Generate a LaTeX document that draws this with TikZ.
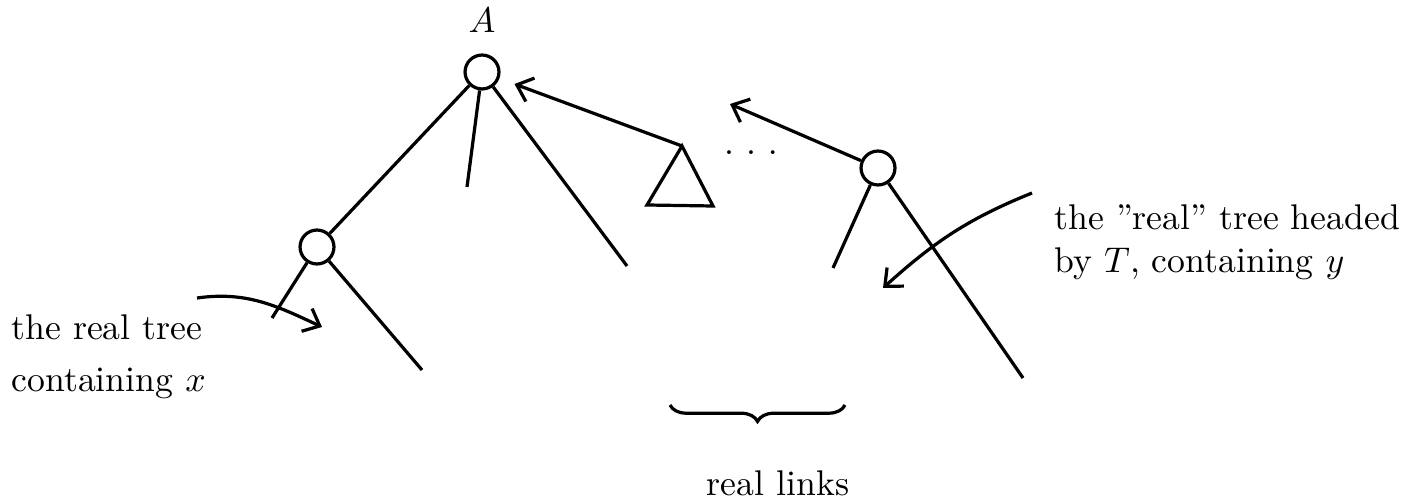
\documentclass[tikz,border=0pt]{standalone}
\usetikzlibrary{positioning, arrows.meta, decorations.pathreplacing}

\begin{document}
\begin{tikzpicture}[
    x=0.28pt, y=-0.28pt,
    >={Straight Barb[length=4pt,width=7pt]},
    line width=0.9pt,
    tree_node/.style={circle, draw, inner sep=0pt, minimum size=9.5pt},
    note_text/.style={align=left, inner sep=0pt, anchor=north west},
    link_brace/.style={decorate, decoration={brace, amplitude=4.6pt}}
]
    \useasboundingbox (0,0) rectangle (1409,504);

    % ======================================================================
    % Knoten
    % ======================================================================
    \node[tree_node] (root) at (482,72) {};
    \node[above=5.5pt of root, inner sep=0pt] (nameA) {$A$};
    \node[tree_node] (xnode) at (317,247) {};
    \node[tree_node] (tnode) at (878,168) {};

    % Blattenden
    \coordinate (rootMid) at (467,187);
    \coordinate (rootRight) at (627,266);
    \coordinate (xLeft) at (272,318);
    \coordinate (xRight) at (422,370);
    \coordinate (tLeft) at (833,268);
    \coordinate (tRight) at (1023,378);

    % ======================================================================
    % Kanten
    % ======================================================================
    \draw (root) -- (xnode);
    \draw (root) -- (rootMid);
    \draw (root) -- (rootRight);
    \draw (xnode) -- (xLeft);
    \draw (xnode) -- (xRight);
    \draw (tnode) -- (tLeft);
    \draw (tnode) -- (tRight);

    % Teilbaum (Dreieck)
    \coordinate (triTop) at (682,146);
    \coordinate (triLeft) at (647,205);
    \coordinate (triRight) at (713,206);
    \draw (triTop) -- (triLeft) -- (triRight) -- cycle;

    % Verweise nach oben
    \draw[->, shorten >=4.5pt] (triTop) -- (root);
    \coordinate (tEnd) at (730,104);
    \draw[->] (tnode) -- (tEnd);
    \node (dots) at (751,153) {$.\,\,.\,\,.$};

    % ======================================================================
    % Beschriftungen
    % ======================================================================
    \node[note_text] (xText) at (10,313)
        {the real tree\\[2.5pt] containing $x$};
    \coordinate (xFrom) at (197,298);
    \coordinate (xTo) at (322,327);
    \draw[->] (xFrom) to[out=8, in=155] (xTo);

    \node[note_text] (tText) at (1053,203)
        {the ''real'' tree headed\\ by $T$, containing $y$};
    \coordinate (tFrom) at (1032,193);
    \coordinate (tTo) at (883,288);
    \draw[->] (tFrom) to[out=202, in=42] (tTo);

    % Klammer
    \coordinate (braceR) at (845,405);
    \coordinate (braceL) at (670,405);
    \draw[link_brace] (braceR) -- (braceL);
    \node[anchor=base] (linkText) at (778,495) {real links};

\end{tikzpicture}
\end{document}
